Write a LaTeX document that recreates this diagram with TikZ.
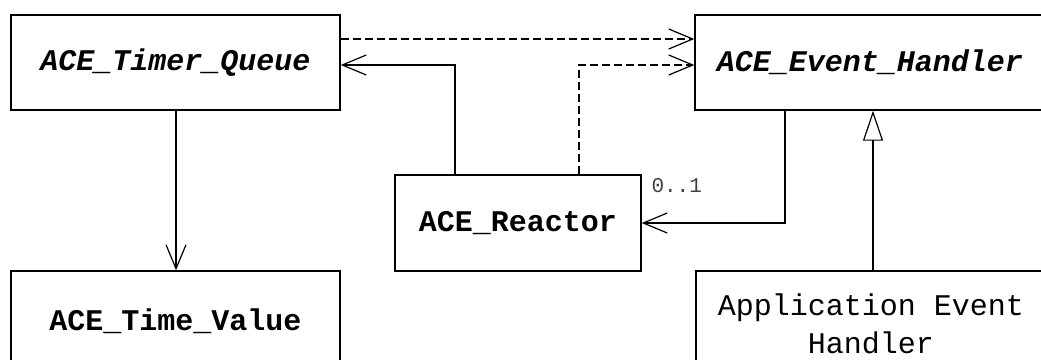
\documentclass[tikz,border=0pt]{standalone}
\usepackage{fontspec}
\setmonofont{Liberation Mono}
\usetikzlibrary{arrows.meta}
\tikzset{
  cls/.style={draw, line width=1.4pt, rectangle, inner sep=0pt, font=\ttfamily\fontsize{30}{38}\selectfont, align=center},
  abscls/.style={cls, font=\ttfamily\bfseries\itshape\fontsize{30}{38}\selectfont},
  boldcls/.style={cls, font=\ttfamily\bfseries\fontsize{30}{38}\selectfont},
  conn/.style={line width=1.2pt},
  dep/.style={conn, dash pattern=on 8pt off 4pt},
  opentip/.style={-{Straight Barb[length=24pt,width=20pt,line width=1.2pt]}},
  inherit/.style={-{Triangle[open,length=30pt,width=20pt,line width=1.2pt]}},
}
\begin{document}
\begin{tikzpicture}[x=1pt,y=-1pt]
\useasboundingbox (0,0) rectangle (1041,359);
\fill[white] (0,0) rectangle (1041,359);
\node[abscls, minimum width=329pt, minimum height=95pt] (tq) at (175.5,62.5) {ACE\_Timer\_Queue};
\node[abscls, minimum width=350pt, minimum height=95pt] (eh) at (870,62.5) {ACE\_Event\_Handler};
\node[boldcls, minimum width=246pt, minimum height=96pt] (re) at (518,223) {ACE\_Reactor};
\node[boldcls, minimum width=329pt, minimum height=100pt] (tv) at (175.5,321) {ACE\_Time\_Value};
\node[cls, minimum width=350pt, minimum height=106pt] (app) at (871,324) {Application Event\\Handler};
% dependencies
\coordinate (d1s) at (tq.east |- 0,39);
\coordinate (d1e) at (eh.west |- 0,39);
\draw[dep, opentip] (d1s) -- (d1e);
\coordinate (d2s) at (re.north -| 579,0);
\coordinate (d2e) at (eh.west |- 0,65);
\draw[dep, opentip] (d2s) |- (d2e);
% reactor to timer queue
\coordinate (a1s) at (re.north -| 455,0);
\coordinate (a1e) at (tq.east |- 0,65);
\draw[conn, opentip] (a1s) |- (a1e);
% timer queue to time value
\coordinate (a3s) at (tq.south -| 176,0);
\coordinate (a3e) at (tv.north -| 176,0);
\draw[conn, opentip] (a3s) -- (a3e);
% event handler to reactor
\coordinate (a2s) at (eh.south -| 785,0);
\coordinate (a2e) at (re.east |- 0,223);
\draw[conn, opentip] (a2s) |- (a2e);
\node[font=\ttfamily\fontsize{21}{24}\selectfont, anchor=west, text=black!75] (mult) at (648,186) {0..1};
% inheritance
\coordinate (ihs) at (app.north -| 873,0);
\coordinate (ihe) at (eh.south -| 873,0);
\draw[conn, inherit] (ihs) -- (ihe);
\end{tikzpicture}
\end{document}
